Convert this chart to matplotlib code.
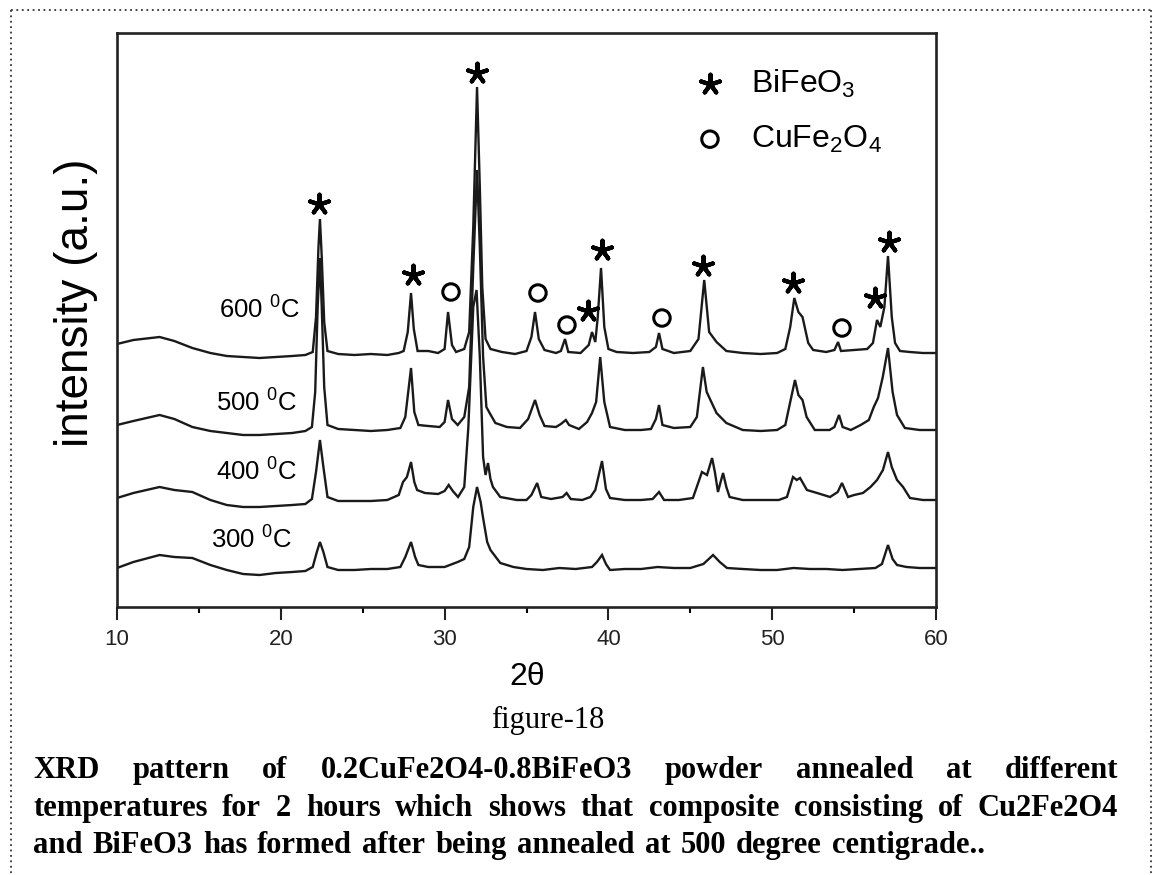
import matplotlib
matplotlib.use("Agg")
import matplotlib.pyplot as plt
from matplotlib.lines import Line2D

plt.rcParams["font.family"] = ["Liberation Sans", "DejaVu Sans"]
plt.rcParams["mathtext.fontset"] = "custom"
plt.rcParams["mathtext.rm"] = "Liberation Sans"
plt.rcParams["mathtext.it"] = "Liberation Sans:italic"

# XRD traces (2theta, stacked intensity in a.u.), one per annealing temperature
tt_600 = [10.0, 11.0, 12.6, 13.5, 14.6, 15.7, 16.7, 17.7, 18.7, 19.7, 20.7, 21.5, 21.95, 22.15, 22.3, 22.39,
          22.5, 22.65, 22.85, 23.5, 24.5, 25.5, 26.5, 27.2, 27.5, 27.75, 27.95, 28.12, 28.35, 29.0, 29.6,
          30.0, 30.21, 30.45, 30.7, 31.2, 31.5, 31.75, 31.98, 32.15, 32.3, 32.5, 32.8, 33.5, 34.3, 35.0,
          35.3, 35.52, 35.75, 36.1, 36.8, 37.1, 37.35, 37.55, 38.3, 38.8, 39.0, 39.2, 39.35, 39.55, 39.75,
          40.0, 40.5, 41.5, 42.5, 42.9, 43.09, 43.3, 44.0, 45.0, 45.5, 45.85, 46.15, 46.6, 47.2, 48.2,
          49.3, 50.3, 50.8, 51.1, 51.35, 51.6, 51.85, 52.2, 52.5, 53.3, 53.8, 54.02, 54.2, 55.0, 55.8,
          56.15, 56.4, 56.6, 56.85, 57.07, 57.3, 57.5, 57.8, 58.4, 59.2, 60.0]
i_600 = [263, 267, 270, 266, 259, 254, 251, 250, 249, 250, 251, 252, 255, 290, 360, 388,
         350, 285, 256, 253, 252, 253, 252, 254, 256, 275, 314, 278, 256, 256, 254,
         258, 295, 262, 255, 258, 275, 380, 520, 420, 320, 268, 258, 255, 253, 256,
         270, 295, 268, 257, 254, 256, 268, 255, 254, 262, 275, 265, 290, 339, 280,
         258, 255, 254, 255, 260, 274, 258, 254, 256, 268, 327, 275, 265, 256, 254,
         253, 254, 258, 280, 309, 295, 290, 264, 257, 255, 257, 265, 256, 257, 258,
         264, 287, 280, 300, 351, 290, 264, 256, 255, 254, 254]

tt_500 = [10.0, 11.0, 12.6, 13.5, 14.6, 15.7, 16.7, 17.7, 18.7, 19.7, 20.7, 21.5, 21.9, 22.1, 22.25, 22.39,
          22.5, 22.65, 22.85, 23.5, 24.5, 25.5, 26.5, 27.3, 27.6, 27.95, 28.15, 28.4, 29.0, 29.7, 30.0,
          30.21, 30.45, 30.8, 31.2, 31.5, 31.75, 31.98, 32.15, 32.35, 32.55, 32.75, 33.1, 33.8, 34.6,
          35.1, 35.52, 35.8, 36.1, 36.8, 37.1, 37.4, 37.6, 38.2, 38.7, 39.0, 39.25, 39.5, 39.75, 40.1,
          41.0, 42.0, 42.6, 42.9, 43.09, 43.3, 44.0, 45.0, 45.4, 45.77, 46.0, 46.6, 47.2, 48.2, 49.3,
          50.3, 50.8, 51.1, 51.39, 51.6, 51.85, 52.1, 52.6, 53.5, 53.8, 54.08, 54.3, 54.8, 55.4, 55.9,
          56.2, 56.46, 56.75, 57.07, 57.35, 57.62, 58.1, 59.0, 60.0]
i_500 = [182, 186, 192, 188, 180, 176, 174, 172, 172, 173, 174, 176, 180, 215, 300, 349,
         300, 220, 182, 178, 177, 176, 177, 179, 190, 239, 195, 182, 181, 180, 185,
         207, 188, 182, 190, 220, 340, 437, 360, 250, 200, 194, 184, 180, 179,
         188, 207, 192, 181, 180, 183, 187, 182, 178, 185, 194, 205, 250, 205, 180,
         177, 177, 178, 188, 202, 182, 179, 180, 190, 240, 215, 194, 184, 177, 176,
         177, 182, 205, 227, 212, 207, 190, 177, 177, 180, 192, 180, 177, 182, 187,
         200, 209, 230, 259, 215, 192, 179, 177, 177]

tt_400 = [10.0, 11.0, 12.6, 13.5, 14.6, 15.7, 16.7, 17.7, 18.7, 19.7, 20.7, 21.5, 21.9, 22.15, 22.39, 22.6,
          22.85, 23.5, 24.5, 25.5, 26.5, 27.2, 27.46, 27.7, 27.95, 28.15, 28.32, 28.8, 29.6, 30.0, 30.25,
          30.5, 30.82, 31.2, 31.45, 31.75, 31.95, 32.15, 32.35, 32.5, 32.65, 32.8, 32.95, 33.4, 34.4,
          35.0, 35.3, 35.65, 35.9, 36.5, 37.2, 37.45, 37.7, 38.4, 38.9, 39.2, 39.61, 39.85, 40.1, 41.0,
          42.0, 42.7, 43.09, 43.4, 44.3, 45.16, 45.5, 45.71, 46.02, 46.33, 46.5, 46.69, 46.85, 47.0,
          47.2, 47.4, 48.2, 49.3, 50.4, 50.9, 51.27, 51.5, 51.7, 52.12, 52.74, 53.53, 54.0, 54.26,
          54.63, 55.0, 55.54, 56.0, 56.4, 56.76, 57.07, 57.3, 57.62, 57.99, 58.41, 59.2, 60.0]
i_400 = [109, 114, 120, 117, 115, 107, 102, 100, 100, 101, 102, 103, 108, 135, 167, 140,
         110, 106, 106, 106, 107, 112, 125, 130, 145, 125, 117, 114, 113, 116, 122,
         116, 110, 120, 180, 300, 317, 250, 150, 132, 144, 128, 120, 110, 107,
         107, 112, 124, 110, 108, 110, 114, 108, 107, 110, 117, 146, 118, 109, 107,
         107, 108, 115, 107, 107, 109, 125, 135, 132, 149, 135, 115, 125, 134,
         120, 110, 107, 107, 107, 110, 130, 127, 129, 117, 114, 110, 115, 124,
         110, 112, 114, 120, 127, 137, 155, 140, 127, 120, 109, 107, 107]

tt_300 = [10.0, 11.0, 12.6, 13.5, 14.6, 15.7, 16.7, 17.7, 18.7, 19.7, 20.7, 21.5, 21.95, 22.2, 22.39, 22.6,
          22.85, 23.5, 24.5, 25.5, 26.5, 27.3, 27.6, 27.95, 28.2, 28.4, 29.0, 30.0, 30.8, 31.2, 31.5,
          31.75, 31.98, 32.2, 32.34, 32.6, 32.8, 33.4, 34.2, 35.0, 36.0, 37.0, 38.0, 39.0, 39.3, 39.61,
          39.85, 40.1, 41.0, 42.0, 43.0, 44.0, 45.0, 45.8, 46.39, 46.8, 47.24, 48.2, 49.3, 50.3, 51.3,
          52.3, 53.3, 54.3, 55.3, 56.3, 56.7, 57.07, 57.35, 57.62, 58.2, 59.0, 60.0]
i_300 = [39, 45, 52, 50, 49, 42, 37, 33, 32, 34, 35, 36, 40, 55, 65, 55,
         40, 37, 37, 38, 38, 40, 50, 65, 50, 42, 40, 40, 45, 48, 60,
         100, 120, 105, 90, 65, 57, 44, 40, 38, 37, 39, 38, 40, 45, 52,
         43, 37, 38, 38, 40, 39, 39, 43, 52, 45, 39, 38, 37, 37, 39,
         38, 38, 37, 38, 39, 43, 62, 48, 42, 40, 39, 39]

curves = [(tt_600, i_600), (tt_500, i_500), (tt_400, i_400), (tt_300, i_300)]
temp_labels = ["600 $^0$C", "500 $^0$C", "400 $^0$C", "300 $^0$C"]
label_pos = [(21.17, 297), (20.99, 204), (20.99, 135), (20.68, 67)]

# phase markers above the reflections
bifeo3_tt = [22.33, 28.07, 31.98, 38.75, 39.61, 45.77, 51.27, 56.28, 57.13]
bifeo3_i = [403, 332, 534, 296, 357, 341, 324, 309, 365]
cufe2o4_tt = [30.39, 35.70, 37.47, 43.27, 54.26]
cufe2o4_i = [315, 314, 282, 289, 279]

caption = [
    "XRD pattern of 0.2CuFe2O4-0.8BiFeO3 powder annealed at different",
    "temperatures for 2 hours which shows that composite consisting of Cu2Fe2O4",
    "and BiFeO3 has formed after being annealed at 500 degree centigrade..",
]

W, H = 1159, 875
fig = plt.figure(figsize=(W / 100, H / 100), dpi=100)
ax = fig.add_axes([117 / W, 1 - 607 / H, (936 - 117) / W, (607 - 33) / H])

for tt, inten in curves:
    ax.plot(tt, inten, color="#1a1a1a", lw=1.7, solid_joinstyle="miter")

for lab, (x, y) in zip(temp_labels, label_pos):
    ax.text(x, y, lab, ha="right", va="center", fontsize=18.5)

star = (5, 2, 0)
ax.scatter(bifeo3_tt, bifeo3_i, marker=star, s=200, color="black", linewidths=3.0, zorder=3)
ax.scatter(cufe2o4_tt, cufe2o4_i, marker="o", s=140, facecolors="none",
           edgecolors="black", linewidths=2.2, zorder=3)

# phase key
ax.scatter([0.724], [0.911], marker=star, s=200, color="black", linewidths=3.0,
           transform=ax.transAxes, clip_on=False)
ax.scatter([0.724], [0.815], marker="o", s=140, facecolors="none", edgecolors="black",
           linewidths=2.2, transform=ax.transAxes, clip_on=False)
ax.text(0.774, 0.911, "BiFeO$_3$", transform=ax.transAxes, fontsize=23, va="center")
ax.text(0.774, 0.815, "CuFe$_2$O$_4$", transform=ax.transAxes, fontsize=23, va="center")

ax.set_xlim(10, 60)
ax.set_ylim(0, 574)
ax.set_xticks(range(10, 61, 10))
ax.set_xticks(range(15, 60, 10), minor=True)
ax.set_yticks([])
ax.tick_params(axis="x", which="major", direction="out", length=9.5, width=1.5,
               labelsize=16, pad=6, colors="#222222")
ax.tick_params(axis="x", which="minor", direction="out", length=4.5, width=1.5)
for sp in ax.spines.values():
    sp.set_linewidth(1.9)
    sp.set_color("#222222")

fig.text(527 / W, 1 - 677 / H, "2θ", ha="center", va="center", fontsize=23)
fig.text(76 / W, 1 - 303 / H, "intensity (a.u.)", rotation=90, ha="center", va="center", fontsize=33)

serif = ["Liberation Serif", "DejaVu Serif"]
fig.text(548 / W, 1 - 720 / H, "figure-18", ha="center", va="center", fontsize=22, family=serif)

# caption lines, words spread between the left and right margins
renderer = fig.canvas.get_renderer()


def justify(line, y_px, x0_px, x1_px):
    words = [fig.text(0, 1 - y_px / H, w, ha="left", va="baseline", fontsize=22,
                      family=serif, weight="bold") for w in line.split()]
    widths = [t.get_window_extent(renderer).width for t in words]
    gap = (x1_px - x0_px - sum(widths)) / (len(words) - 1)
    x = x0_px
    for t, w in zip(words, widths):
        t.set_x(x / W)
        x += w + gap


justify(caption[0], 778, 33, 1118)
justify(caption[1], 816, 33, 1118)
justify(caption[2], 853, 33, 985)

# dotted frame round the figure
dot = dict(color="#333333", lw=1.3, linestyle=(0, (1, 2)))
fig.add_artist(Line2D([11 / W, 1151 / W], [1 - 10 / H, 1 - 10 / H], transform=fig.transFigure, **dot))
fig.add_artist(Line2D([11 / W, 11 / W], [1 - 10 / H, 0], transform=fig.transFigure, **dot))
fig.add_artist(Line2D([1151 / W, 1151 / W], [1 - 10 / H, 0], transform=fig.transFigure, **dot))

fig.savefig("out.png", dpi=100)
